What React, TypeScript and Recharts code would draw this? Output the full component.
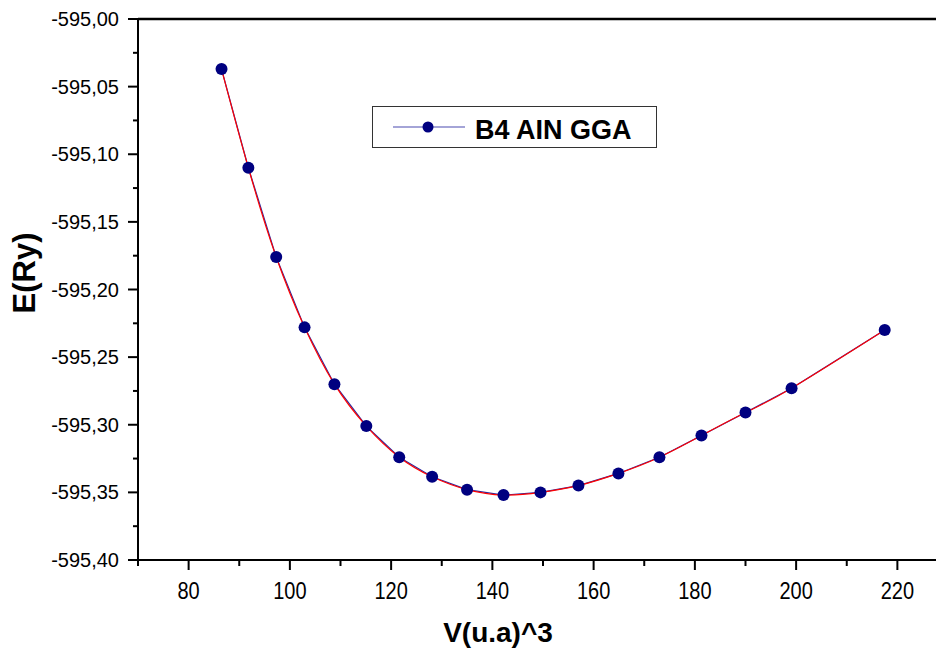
import React from "react"
import { LineChart, Line, XAxis, YAxis, ReferenceLine, Legend, Label } from "recharts"

const FONT = "'Liberation Sans', Arial, sans-serif"

// volumes (u.a)^3 and total energies (Ry)
const volumes = [86.5, 91.8, 97.3, 102.9, 108.8, 115.1, 121.6, 128.1, 135.0, 142.2, 149.5, 157.0, 164.9, 173.0, 181.3, 190.0, 199.1, 217.5]
const energies = [-595.037, -595.110, -595.176, -595.228, -595.270, -595.301, -595.324, -595.3385, -595.348, -595.352, -595.350, -595.345, -595.336, -595.324, -595.308, -595.291, -595.273, -595.230]

const xTicks = [70, 80, 90, 100, 110, 120, 130, 140, 150, 160, 170, 180, 190, 200, 210, 220, 230]
const yTicks = [-595.4, -595.375, -595.35, -595.325, -595.3, -595.275, -595.25, -595.225, -595.2, -595.175, -595.15, -595.125, -595.1, -595.075, -595.05, -595.025, -595.0]

const data = volumes.map((v, i) => ({ v, e: energies[i] }))

const isMajorX = (v: number) => v % 20 === 0
const isMajorY = (v: number) => Math.abs(v * 20 - Math.round(v * 20)) < 1e-6

function XTick({ x, y, payload }: any) {
  const major = isMajorX(payload.value)
  return (
    <g>
      <line x1={x} x2={x} y1={y} y2={y + (major ? 10 : 6)} stroke="#000" strokeWidth={2} />
      {major && (
        <text
          transform={`translate(${x},${y + 39}) scale(1,1.2)`}
          textAnchor="middle"
          fontFamily={FONT}
          fontSize={20}
          fill="#000"
        >
          {payload.value}
        </text>
      )}
    </g>
  )
}

function YTick({ x, y, payload }: any) {
  const major = isMajorY(payload.value)
  return (
    <g>
      <line x1={x - (major ? 10 : 5)} x2={x} y1={y} y2={y} stroke="#000" strokeWidth={2} />
      {major && (
        <text x={x - 19} y={y + 7} textAnchor="end" fontFamily={FONT} fontSize={20} fill="#000">
          {payload.value.toFixed(2).replace(".", ",")}
        </text>
      )}
    </g>
  )
}

function LegendBox() {
  return (
    <div style={{ width: 285, height: 42, border: "1px solid #333", boxSizing: "border-box", background: "#fff" }}>
      <svg width={283} height={40} style={{ display: "block" }}>
        <line x1={20} x2={92} y1={20} y2={20} stroke="#4a4ab0" strokeWidth={1.2} />
        <circle cx={55} cy={20} r={5.5} fill="#000080" />
        <text x={102} y={32} fontFamily={FONT} fontSize={27} fontWeight="bold" fill="#000">
          B4 AIN GGA
        </text>
      </svg>
    </div>
  )
}

export default function App() {
  return (
    <div style={{ position: "absolute", left: 0, top: 0, width: 936, height: 650, overflow: "hidden", background: "#fff" }}>
      <LineChart width={960} height={650} data={data} margin={{ top: 19, right: 12, bottom: 0, left: 0 }}>
        <XAxis
          type="number"
          dataKey="v"
          domain={[70, 230]}
          ticks={xTicks}
          interval={0}
          height={90}
          tickSize={0}
          tickMargin={0}
          tickLine={false}
          axisLine={{ stroke: "#000", strokeWidth: 2 }}
          tick={<XTick />}
          allowDataOverflow
        >
          <Label
            content={() => (
              <text x={498} y={642} textAnchor="middle" fontFamily={FONT} fontSize={28} fontWeight="bold" fill="#000">
                V(u.a)^3
              </text>
            )}
          />
        </XAxis>
        <YAxis
          type="number"
          domain={[-595.4, -595.0]}
          ticks={yTicks}
          interval={0}
          width={138}
          tickSize={0}
          tickMargin={0}
          tickLine={false}
          axisLine={{ stroke: "#000", strokeWidth: 2 }}
          tick={<YTick />}
          allowDataOverflow
        >
          <Label
            content={() => (
              <text
                x={35}
                y={273}
                transform="rotate(-90,35,273)"
                textAnchor="middle"
                fontFamily={FONT}
                fontSize={31}
                fontWeight="bold"
                fill="#000"
              >
                E(Ry)
              </text>
            )}
          />
        </YAxis>
        <ReferenceLine y={-595.0} stroke="#000" strokeWidth={2.5} ifOverflow="visible" />
        <Legend
          layout="vertical"
          align="center"
          verticalAlign="middle"
          wrapperStyle={{ left: 372, top: 106, width: 285, height: 42 }}
          content={() => <LegendBox />}
        />
        <Line
          type="linear"
          dataKey="e"
          stroke="#2a2aa0"
          strokeWidth={1.2}
          dot={{ r: 6, fill: "#000080", stroke: "none" }}
          activeDot={false}
          isAnimationActive={false}
        />
        <Line
          type="natural"
          dataKey="e"
          stroke="#ff0000"
          strokeWidth={1.2}
          dot={false}
          activeDot={false}
          isAnimationActive={false}
        />
      </LineChart>
    </div>
  )
}
